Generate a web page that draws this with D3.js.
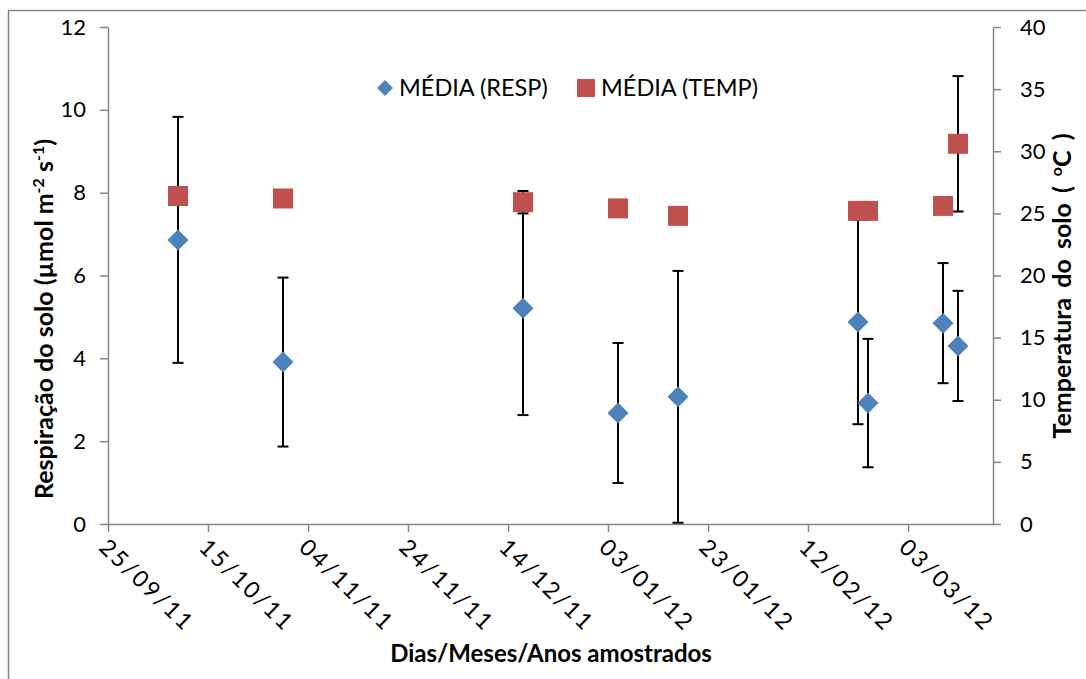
<!DOCTYPE html>
<html>
<head>
<meta charset="utf-8">
<script src="https://cdn.jsdelivr.net/npm/d3@7"></script>
<style>
  body { margin: 0; background: #fff; }
  text { font-family: Lato, "Open Sans", sans-serif; fill: #000; }
</style>
</head>
<body>
<div id="chart"></div>
<script>
const FRAME_WIDTH = 1086;
const FRAME_HEIGHT = 679;
const PLOT = {left: 108, right: 993, top: 27, bottom: 524};

// sampling dates and means
const dates = ["2011-10-09", "2011-10-30", "2011-12-17", "2012-01-05", "2012-01-17",
               "2012-02-22", "2012-02-24", "2012-03-10", "2012-03-13"];
const resp_mean = [6.86, 3.91, 5.21, 2.68, 3.07, 4.88, 2.92, 4.85, 4.30];
const resp_err  = [2.97, 2.04, 2.58, 1.69, 3.04, 2.47, 1.55, 1.45, 1.33];
const temp_mean = [26.4, 26.2, 25.9, 25.4, 24.8, 25.2, 25.2, 25.6, 30.6];
const temp_err  = [0, 0, 0.9, 0, 0, 0, 0, 0, 5.45];
const x_ticks = ["2011-09-25", "2011-10-15", "2011-11-04", "2011-11-24", "2011-12-14",
                 "2012-01-03", "2012-01-23", "2012-02-12", "2012-03-03"];
const left_ticks = [0, 2, 4, 6, 8, 10, 12];
const right_ticks = [0, 5, 10, 15, 20, 25, 30, 35, 40];

const BLUE = "#4F81BD";
const RED = "#C0504D";
const GREY = "#868686";

const parse = d3.timeParse("%Y-%m-%d");
const fmt = d3.timeFormat("%d/%m/%y");

const data = dates.map((d, i) => ({
    date: parse(d), resp: resp_mean[i], re: resp_err[i], temp: temp_mean[i], te: temp_err[i]
}));

const SVG = d3.select("#chart")
  .append("svg")
    .attr("width", FRAME_WIDTH)
    .attr("height", FRAME_HEIGHT);

// chart border
SVG.append("rect")
  .attr("x", 8.5).attr("y", 10.5)
  .attr("width", FRAME_WIDTH + 20).attr("height", FRAME_HEIGHT + 20)
  .attr("fill", "none").attr("stroke", GREY).attr("stroke-width", 1.5);

// scales
const x = d3.scaleTime()
  .domain([parse("2011-09-25"), parse("2012-03-20")])
  .range([PLOT.left, PLOT.right]);
const y_left = d3.scaleLinear().domain([0, 12]).range([PLOT.bottom, PLOT.top]);
const y_right = d3.scaleLinear().domain([0, 40]).range([PLOT.bottom, PLOT.top]);

// x axis
const xAxis = SVG.append("g")
  .attr("transform", "translate(0," + PLOT.bottom + ")")
  .call(d3.axisBottom(x).tickValues(x_ticks.map(parse)).tickFormat(fmt).tickSize(8).tickSizeOuter(0));
xAxis.selectAll("text")
  .attr("font-size", 23)
  .attr("letter-spacing", 2.5)
  .attr("text-anchor", "start")
  .attr("dy", 0)
  .attr("transform", "translate(-3,17) rotate(44)");

// left axis
const leftAxis = SVG.append("g")
  .attr("transform", "translate(" + PLOT.left + ",0)")
  .call(d3.axisLeft(y_left).tickValues(left_ticks).tickSize(8).tickSizeOuter(0).tickPadding(14));
leftAxis.selectAll("text").attr("font-size", 22);

// right axis
const rightAxis = SVG.append("g")
  .attr("transform", "translate(" + PLOT.right + ",0)")
  .call(d3.axisRight(y_right).tickValues(right_ticks).tickSize(8).tickSizeOuter(0).tickPadding(19));
rightAxis.selectAll("text").attr("font-size", 22);

[xAxis, leftAxis, rightAxis].forEach(g => {
  g.selectAll(".domain").attr("stroke", GREY).attr("stroke-width", 1.5);
  g.selectAll(".tick line").attr("stroke", GREY).attr("stroke-width", 1.5);
});

// error bars
function errorBars(acc, err, scale) {
  const g = SVG.append("g").attr("stroke", "#000").attr("stroke-width", 2);
  const rows = data.filter(d => err(d) > 0);
  rows.forEach(d => {
    const cx = x(d.date);
    const top = scale(acc(d) + err(d));
    const bot = scale(Math.max(0, acc(d) - err(d)));
    g.append("line").attr("x1", cx).attr("x2", cx).attr("y1", top).attr("y2", bot);
    g.append("line").attr("x1", cx - 5.5).attr("x2", cx + 5.5).attr("y1", top).attr("y2", top);
    g.append("line").attr("x1", cx - 5.5).attr("x2", cx + 5.5).attr("y1", bot).attr("y2", bot);
  });
}
errorBars(d => d.resp, d => d.re, y_left);
errorBars(d => d.temp, d => d.te, y_right);

// temperature squares
const square = d3.symbol().type(d3.symbolSquare).size(400);
SVG.append("g").selectAll("path")
  .data(data).enter().append("path")
    .attr("d", square)
    .attr("transform", d => "translate(" + x(d.date) + "," + y_right(d.temp) + ")")
    .attr("fill", RED);

// respiration diamonds
const diamond = "M0,-10.5L10.5,0L0,10.5L-10.5,0Z";
SVG.append("g").selectAll("path")
  .data(data).enter().append("path")
    .attr("d", diamond)
    .attr("transform", d => "translate(" + x(d.date) + "," + y_left(d.resp) + ")")
    .attr("fill", BLUE);

// legend
const legend = SVG.append("g");
legend.append("path").attr("d", "M0,-8L8,0L0,8L-8,0Z")
  .attr("transform", "translate(385,88)").attr("fill", BLUE);
legend.append("text").attr("x", 399).attr("y", 96).attr("font-size", 23.5).text("MÉDIA (RESP)");
legend.append("rect").attr("x", 577).attr("y", 79).attr("width", 18).attr("height", 18).attr("fill", RED);
legend.append("text").attr("x", 601).attr("y", 96).attr("font-size", 23.5).text("MÉDIA (TEMP)");

// axis titles
const leftTitle = SVG.append("text")
  .attr("transform", "translate(53,319) rotate(-90)")
  .attr("text-anchor", "middle")
  .attr("font-size", 25).attr("font-weight", "bold");
leftTitle.append("tspan").text("Respiração do solo  (µmol m");
leftTitle.append("tspan").attr("baseline-shift", "super").attr("font-size", 16).text("-2");
leftTitle.append("tspan").text(" s");
leftTitle.append("tspan").attr("baseline-shift", "super").attr("font-size", 16).text("-1");
leftTitle.append("tspan").text(")");

const rightTitle = SVG.append("text")
  .attr("transform", "translate(1071,286) rotate(-90)")
  .attr("text-anchor", "middle")
  .attr("font-size", 25).attr("font-weight", "bold")
  .attr("word-spacing", 4);
rightTitle.append("tspan").text("Temperatura do solo  ( ");
rightTitle.append("tspan").attr("baseline-shift", "super").attr("font-size", 16).text("o");
rightTitle.append("tspan").text("C )");

SVG.append("text")
  .attr("x", 551).attr("y", 662)
  .attr("text-anchor", "middle")
  .attr("font-size", 24).attr("font-weight", "bold")
  .text("Dias/Meses/Anos amostrados");
</script>
</body>
</html>
